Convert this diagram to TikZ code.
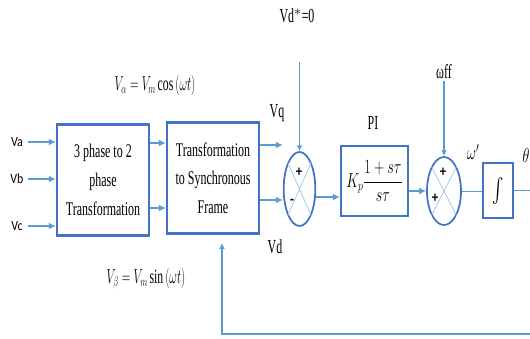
\documentclass[tikz,border=0pt]{standalone}
\usepackage{fontspec}
\usepackage{amsmath}
\usepackage{graphicx}
\usepackage{tikz}
\usetikzlibrary{arrows.meta, positioning, calc, shapes.geometric}
\setmainfont{Liberation Serif}
\newfontfamily\boxfont[FakeStretch=0.62]{Liberation Serif}
\newfontfamily\labfont[FakeStretch=0.6]{Liberation Serif}
\newfontfamily\calfont[FakeStretch=0.85]{Carlito}
\definecolor{BoxBlue}{RGB}{68,114,196}
\definecolor{LineBlue}{RGB}{91,155,213}
\definecolor{CrossBlue}{RGB}{157,195,230}
\newcommand{\narrow}[2][0.7]{\scalebox{#1}[1]{#2}}
\tikzset{
  >=latex,  % frecce di default
  % Blocchi e sommatori
  block/.style={draw=BoxBlue,line width=2pt,align=center,inner sep=1pt,
    font=\boxfont\fontsize{16.5}{24.5}\selectfont},
  block big/.style={block,minimum width=2.76cm,minimum height=3.33cm},
  sum/.style={ellipse,draw=BoxBlue,line width=1.5pt,inner sep=0,minimum width=0.95cm},
  sign/.style={font=\calfont\bfseries\fontsize{13}{13}\selectfont,inner sep=0},
  % Etichette
  lab/.style={font=\labfont\fontsize{17}{19}\selectfont,inner sep=1pt},
  phase in/.style={font=\calfont\fontsize{12}{14}\selectfont,inner sep=1pt},
  eq/.style={font=\fontsize{17.28}{19}\selectfont,inner sep=1pt},
  % Connessioni
  connect/.style={LineBlue,line width=0.8pt},
  connect arrow/.style={-{Latex[length=6pt,width=6pt]},LineBlue,line width=1.4pt},
  connect thin/.style={-{Latex[length=5pt,width=5pt]},LineBlue,line width=1pt},
  cross/.style={CrossBlue,line width=0.6pt}
}

\begin{document}
\begin{tikzpicture}[x=0.03cm,y=-0.03cm]
    \useasboundingbox (0,0) rectangle (530,339);
    % blocchi
    \node[block big] (b1) at (103,180) {3 phase to 2\\phase\\Transformation};
    \node[block big] (b2) at (213,178) {Transformation\\to Synchronous\\Frame};
    \node[block,minimum width=2.01cm,minimum height=2.1cm] (pi) at (374.5,181)
      {\narrow{\fontsize{17.28}{19}\selectfont$K_p\dfrac{1+s\tau}{s\tau}$}};
    \node[block,minimum width=0.9cm,minimum height=1.65cm] (int) at (498,190.5)
      {\narrow{\fontsize{20}{22}\selectfont$\int$}};
    \node[sum,minimum height=2.22cm] (s1) at (299.5,189) {};
    \node[sum,minimum width=1.02cm,minimum height=2.04cm] (s2) at (444,191) {};
    \foreach \s in {s1,s2}
      \draw[cross] (\s.north west) -- (\s.south east) (\s.north east) -- (\s.south west);
    \node[sign] (s1a) at (299,172) {+};
    \node[sign] (s1b) at (292,202) {-};
    \node[sign] (s2a) at (443,172) {+};
    \node[sign] (s2b) at (435,198) {+};
    % ingressi
    \node[phase in] (va) at (17,142) {Va};
    \node[phase in] (vb) at (17,179) {Vb};
    \node[phase in] (vc) at (17,226) {Vc};
    \foreach \v in {va,vb,vc}
      \draw[connect arrow,shorten <=3pt] (\v) -- (\v -| b1.west);
    \coordinate (b1q) at ([yshift=1.11cm]b1.east);
    \coordinate (b1d) at ([yshift=-0.84cm]b1.east);
    \draw[connect arrow] (b1q) -- (b1q -| b2.west);
    \draw[connect arrow] (b1d) -- (b1d -| b2.west);
    \coordinate (b2q) at ([yshift=0.99cm]b2.east);
    \coordinate (b2d) at ([yshift=-0.66cm]b2.east);
    \draw[connect arrow] (b2q) -- (b2q -| s1.west);
    \draw[connect arrow] (b2d) -- (b2d -| s1.west);
    \coordinate (s1o) at ([yshift=-0.24cm]s1.east);
    \draw[connect arrow] (s1o) -- (s1o -| pi.west);
    \coordinate (pio) at ([yshift=-0.3cm]pi.east);
    \draw[connect arrow] (pio) -- (pio -| s2.west);
    \draw[connect] (s2.east) -- (s2.east -| int.west);
    \coordinate (theta) at (532,193);
    \draw[connect] (int.east) -- (int.east -| theta);
    % riferimenti e retroazione
    \node[lab] (vdref) at (297,16) {Vd$^{*}$=0};
    \coordinate (vdtop) at (299.5,62);
    \draw[connect thin] (vdtop) -- (s1.north);
    \node[lab] (wff) at (444,72) {ωff};
    \draw[connect thin] (wff) -- (s2.north);
    \coordinate (fb) at (532,334);
    \coordinate (b2fb) at ([xshift=0.27cm]b2.south);
    \draw[connect thin,shorten >=0.25cm] (fb) -| (b2fb);
    % etichette
    \node[lab] (vq) at (277,113) {Vq};
    \node[lab] (vd) at (275,247) {Vd};
    \node[lab] (pilab) at (373,123) {PI};
    \node[eq] (wp) at (473,152) {\narrow{$\omega'$}};
    \node[eq] (th) at (526,155) {\narrow{$\theta$}};
    \node[eq] (valpha) at (155,85) {\narrow[0.58]{$V_\alpha = V_m\cos\,(\omega t)$}};
    \node[eq] (vbeta) at (146,279) {\narrow[0.58]{$V_\beta = V_m\sin\,(\omega t)$}};
\end{tikzpicture}
\end{document}
